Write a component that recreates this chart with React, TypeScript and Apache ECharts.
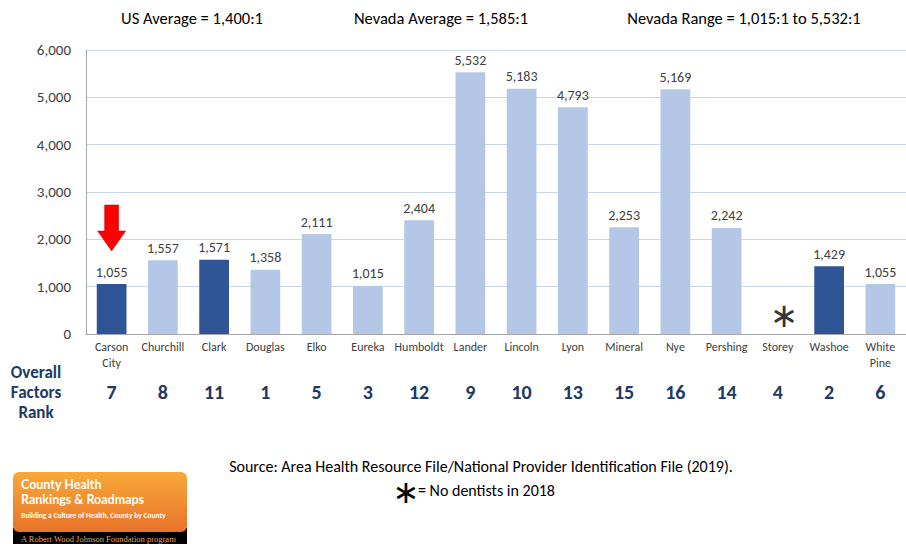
import React, { useEffect, useRef } from "react";
import * as echarts from "echarts";

const counties = ["Carson\nCity", "Churchill", "Clark", "Douglas", "Elko", "Eureka", "Humboldt", "Lander", "Lincoln", "Lyon", "Mineral", "Nye", "Pershing", "Storey", "Washoe", "White\nPine"];
const ratios: (number | null)[] = [1055, 1557, 1571, 1358, 2111, 1015, 2404, 5532, 5183, 4793, 2253, 5169, 2242, null, 1429, 1055];
const ranks = ["7", "8", "11", "1", "5", "3", "12", "9", "10", "13", "15", "16", "14", "4", "2", "6"];
const highlighted = ["Carson\nCity", "Clark", "Washoe"];
const noDataCounty = "Storey";
const noDataMarkerValue = 400;
const arrowCounty = "Carson\nCity";
const arrowValue = 2240;
const yTicks = { min: 0, max: 6000, interval: 1000 };
const headers = ["US Average = 1,400:1", "Nevada Average = 1,585:1", "Nevada Range = 1,015:1 to 5,532:1"];

const FONT = "Carlito, Calibri, 'Liberation Sans', Arial, sans-serif";
const LOGO_FONT = "Lato, Carlito, sans-serif";
const DARK = "#2F5597";
const LIGHT = "#B4C7E7";
const NAVY = "#203864";
const TEXT = "#404040";

export default function App() {
  const ref = useRef<HTMLDivElement>(null);
  useEffect(() => {
    if (!ref.current) return;
    const chart = echarts.init(ref.current, undefined, { renderer: "svg" });
    const fmt = (v: number) => v.toLocaleString("en-US");
    chart.setOption({
      animation: false,
      textStyle: { fontFamily: FONT },
      grid: { left: 86, top: 50, height: 284, width: 829, containLabel: false },
      xAxis: [
        {
          type: "category",
          data: counties,
          position: "bottom",
          axisLine: { lineStyle: { color: "#A6A6A6" } },
          axisTick: { show: false },
          axisLabel: { color: TEXT, fontSize: 12, fontFamily: FONT, margin: 5, lineHeight: 16, interval: 0 },
        },
        {
          type: "category",
          data: ranks,
          position: "bottom",
          offset: 40,
          axisLine: { show: false },
          axisTick: { show: false },
          axisLabel: { color: NAVY, fontSize: 20, fontWeight: "bold", fontFamily: FONT, interval: 0 },
        },
      ],
      yAxis: {
        type: "value",
        min: yTicks.min,
        max: yTicks.max,
        interval: yTicks.interval,
        axisLine: { show: true, lineStyle: { color: "#A6A6A6" } },
        axisTick: { show: false },
        axisLabel: { color: TEXT, fontSize: 15, fontFamily: FONT, margin: 15, formatter: (v: number) => fmt(v) },
        splitLine: { lineStyle: { color: "#C9D7EE" } },
      },
      series: [
        {
          type: "bar",
          barWidth: "58%",
          data: ratios.map((v, i) => ({
            value: v,
            itemStyle: { color: highlighted.includes(counties[i]) ? DARK : LIGHT },
          })),
          label: {
            show: true,
            position: "top",
            distance: 5,
            color: TEXT,
            fontSize: 14,
            fontFamily: FONT,
            formatter: (p: any) => (p.value == null ? "" : fmt(p.value)),
          },
          markPoint: {
            data: [
              {
                coord: [arrowCounty, arrowValue],
                symbol: "path://M7,0 L21,0 L21,26 L28,26 L14,46 L0,26 L7,26 Z",
                symbolSize: [28, 46],
                itemStyle: { color: "#FF0000", borderColor: "#C00000", borderWidth: 0.5 },
                label: { show: false },
              },
            ],
          },
        },
        {
          type: "scatter",
          symbol: "circle",
          symbolSize: 2,
          itemStyle: { color: "rgba(0,0,0,0)" },
          data: counties.map((c) => (c === noDataCounty ? noDataMarkerValue : "-")),
          label: {
            show: true,
            position: "inside",
            offset: [6, 0],
            formatter: "\u2217",
            fontSize: 34,
            color: "#000",
            fontFamily: "'DejaVu Sans', sans-serif",
          },
        },
      ],
      graphic: [
        ...headers.map((h, i) => ({
          type: "text",
          x: [192, 441, 744][i],
          y: 18,
          style: { text: h, fontSize: 16.5, fontFamily: FONT, fill: "#000", align: "center", verticalAlign: "middle" },
        })),
        {
          type: "text",
          x: 36,
          y: 392,
          style: {
            text: "Overall\nFactors\nRank",
            fontSize: 17,
            fontWeight: "bold",
            lineHeight: 20,
            fontFamily: FONT,
            fill: NAVY,
            align: "center",
            verticalAlign: "middle",
          },
        },
        {
          type: "text",
          x: 481,
          y: 466,
          style: {
            text: "Source: Area Health Resource File/National Provider Identification File (2019).",
            fontSize: 16,
            fontFamily: FONT,
            fill: "#000",
            align: "center",
            verticalAlign: "middle",
          },
        },
        {
          type: "text",
          x: 406,
          y: 492,
          style: { text: "\u2217", fontSize: 32, fontFamily: "'DejaVu Sans', sans-serif", fill: "#000", align: "center", verticalAlign: "middle" },
        },
        {
          type: "text",
          x: 418,
          y: 490,
          style: { text: "= No dentists in 2018", fontSize: 16, fontFamily: FONT, fill: "#000", align: "left", verticalAlign: "middle" },
        },
        {
          type: "rect",
          shape: { x: 13, y: 528, width: 174, height: 16 },
          style: { fill: "#000" },
        },
        {
          type: "rect",
          shape: { x: 13, y: 472, width: 174, height: 60, r: 6 },
          style: {
            fill: new echarts.graphic.LinearGradient(0, 0, 0, 1, [
              { offset: 0, color: "#F8A93A" },
              { offset: 1, color: "#E8732A" },
            ]),
          },
        },
        {
          type: "text",
          x: 21,
          y: 484,
          style: { text: "County Health", fontSize: 12.5, fontWeight: "bold", fontFamily: LOGO_FONT, fill: "#fff", verticalAlign: "middle" },
        },
        {
          type: "text",
          x: 21,
          y: 499.5,
          style: { text: "Rankings & Roadmaps", fontSize: 12.5, fontWeight: "bold", fontFamily: LOGO_FONT, fill: "#fff", verticalAlign: "middle" },
        },
        {
          type: "text",
          x: 21,
          y: 515,
          style: { text: "Building a Culture of Health, County by County", fontSize: 7.5, fontWeight: "bold", fontFamily: FONT, fill: "#fff", verticalAlign: "middle" },
        },
        {
          type: "text",
          x: 21,
          y: 539,
          style: { text: "A Robert Wood Johnson Foundation program", fontSize: 8.5, fontFamily: "'Liberation Serif', serif", fill: "#E0A060", verticalAlign: "middle" },
        },
      ],
    });
    return () => chart.dispose();
  }, []);
  return <div ref={ref} style={{ width: 906, height: 544, position: "absolute", left: 0, top: 0, background: "#fff" }} />;
}
